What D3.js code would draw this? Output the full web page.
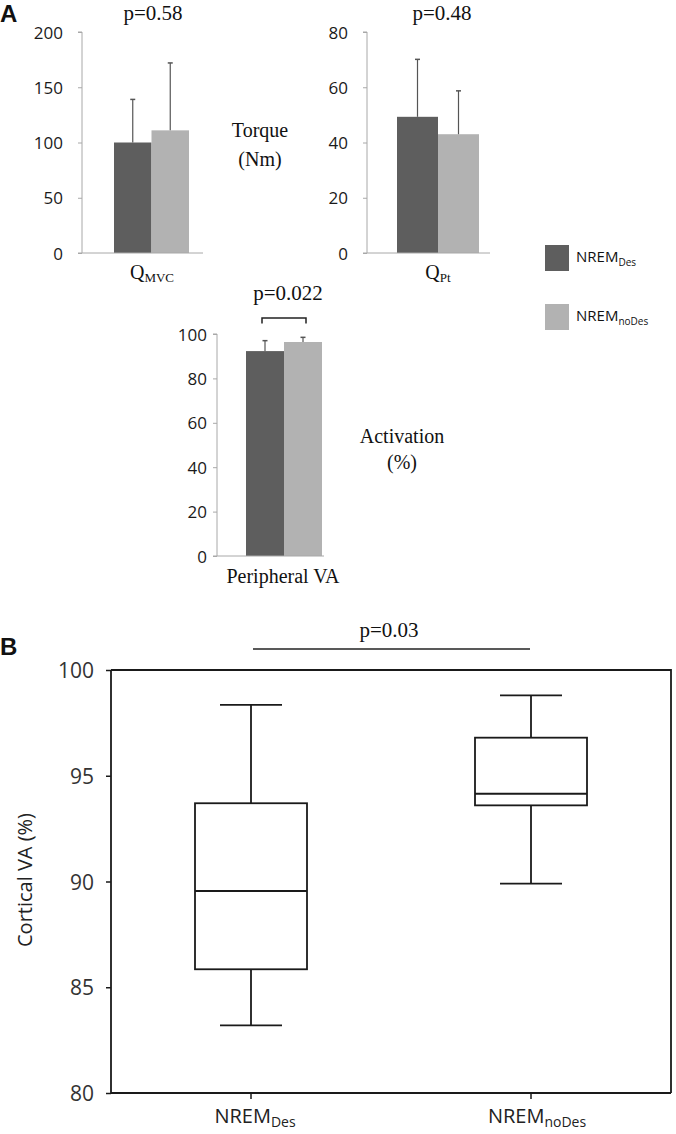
<!DOCTYPE html>
<html>
<head>
<meta charset="utf-8">
<script src="https://cdn.jsdelivr.net/npm/d3@7"></script>
<style>
  html, body { margin: 0; padding: 0; background: #fff; }
  svg { display: block; }
</style>
</head>
<body>
<svg id="chart" width="676" height="1134"></svg>
<script>
// ---------------- DATA ----------------
const groups = ["NREM_Des", "NREM_noDes"];
const groupMain = ["NREM", "NREM"];
const groupSub = ["Des", "noDes"];

// Panel A: means and SD (upper error bars)
const qmvcMean = [100, 111];
const qmvcSD = [39, 61];
const qmvcTicks = [0, 50, 100, 150, 200];
const qmvcP = "p=0.58";

const qptMean = [49.3, 43.0];
const qptSD = [20.8, 15.7];
const qptTicks = [0, 20, 40, 60, 80];
const qptP = "p=0.48";

const vaMean = [92.3, 96.4];
const vaSD = [4.7, 2.1];
const vaTicks = [0, 20, 40, 60, 80, 100];
const vaP = "p=0.022";

// Panel B: box plot statistics (Cortical VA %)
const boxMin = [83.2, 89.9];
const boxQ1 = [85.85, 93.6];
const boxMedian = [89.55, 94.15];
const boxQ3 = [93.7, 96.8];
const boxMax = [98.35, 98.8];
const boxTicks = [80, 85, 90, 95, 100];
const boxP = "p=0.03";

// ---------------- STYLE ----------------
const darkCol = "#5e5e5e";
const lightCol = "#b2b2b2";
const sans = "'Open Sans', 'Noto Sans', sans-serif";
const serif = "'Liberation Serif', 'Times New Roman', serif";

const svg = d3.select("#chart");

// ---------------- PANEL A BAR CHARTS ----------------
function barChart(opts) {
  const g = svg.append("g");
  const y = d3.scaleLinear().domain(opts.domain).range([opts.y0, opts.y1]);
  const x = d3.scaleBand().domain(groups).range([opts.bx0, opts.bx1]).padding(0);

  g.selectAll("rect.bar").data(groups).enter().append("rect")
    .attr("x", d => x(d))
    .attr("width", x.bandwidth())
    .attr("y", (d, i) => y(opts.mean[i]))
    .attr("height", (d, i) => y(0) - y(opts.mean[i]))
    .attr("fill", (d, i) => i === 0 ? darkCol : lightCol);

  groups.forEach((d, i) => {
    const cx = x(d) + x.bandwidth() / 2;
    g.append("line").attr("x1", cx).attr("x2", cx)
      .attr("y1", y(opts.mean[i])).attr("y2", y(opts.mean[i] + opts.sd[i]))
      .attr("stroke", "#555").attr("stroke-width", 1.2);
    g.append("line").attr("x1", cx - 2.5).attr("x2", cx + 2.5)
      .attr("y1", y(opts.mean[i] + opts.sd[i])).attr("y2", y(opts.mean[i] + opts.sd[i]))
      .attr("stroke", "#555").attr("stroke-width", 1.5);
  });

  const ax = g.append("g").attr("transform", `translate(${opts.ax},0)`)
    .call(d3.axisLeft(y).tickValues(opts.ticks).tickSize(4).tickPadding(opts.pad).tickFormat(d3.format("d")));
  ax.select(".domain").attr("stroke", "#a8a8a8").attr("d", `M-4,${y(opts.domain[1])}H0V${y(0)}`);
  ax.selectAll(".tick line").attr("stroke", "#a8a8a8");
  ax.selectAll(".tick text").attr("font-family", sans).attr("font-size", 17)
    .attr("fill", "#1a1a1a").attr("dy", "0.36em");

  g.append("line").attr("x1", opts.ax - 4).attr("x2", opts.baseEnd)
    .attr("y1", y(0)).attr("y2", y(0)).attr("stroke", "#a8a8a8").attr("stroke-width", 1);

  g.append("text").attr("x", opts.px).attr("y", opts.py).attr("text-anchor", "middle")
    .attr("font-family", serif).attr("font-size", 21).attr("fill", "#111").text(opts.p);

  const lab = g.append("text").attr("x", opts.lx).attr("y", opts.ly).attr("text-anchor", "middle")
    .attr("font-family", serif).attr("font-size", 20).attr("fill", "#111");
  lab.append("tspan").text(opts.label);
  if (opts.sub) lab.append("tspan").attr("font-size", 13).attr("dy", 3).text(opts.sub);
  return { g, x, y };
}

barChart({ domain: [0, 200], y0: 253, y1: 32, bx0: 114, bx1: 189, ax: 82, baseEnd: 203,
  mean: qmvcMean, sd: qmvcSD, ticks: qmvcTicks, pad: 15, p: qmvcP, px: 153, py: 20,
  label: "Q", sub: "MVC", lx: 152, ly: 279 });

barChart({ domain: [0, 80], y0: 253, y1: 32, bx0: 397, bx1: 479, ax: 367, baseEnd: 490,
  mean: qptMean, sd: qptSD, ticks: qptTicks, pad: 15, p: qptP, px: 442, py: 20,
  label: "Q", sub: "Pt", lx: 438, ly: 279 });

barChart({ domain: [0, 100], y0: 556, y1: 334, bx0: 246, bx1: 322, ax: 217, baseEnd: 324,
  mean: vaMean, sd: vaSD, ticks: vaTicks, pad: 6, p: vaP, px: 288, py: 300,
  label: "Peripheral VA", sub: null, lx: 283, ly: 583 });

// significance bracket for peripheral VA
svg.append("path")
  .attr("d", `M262,323.5V318H306V323.5`)
  .attr("fill", "none").attr("stroke", "#222").attr("stroke-width", 1.5);

function multiLine(x, ys, lines) {
  lines.forEach((t, i) => svg.append("text").attr("x", x).attr("y", ys[i]).attr("text-anchor", "middle")
    .attr("font-family", serif).attr("font-size", 20).attr("fill", "#111").text(t));
}
multiLine(260, [137, 166], ["Torque", "(Nm)"]);
multiLine(402, [443, 469], ["Activation", "(%)"]);

// legend
const legend = svg.append("g");
const legY = [245, 304];
groups.forEach((d, i) => {
  legend.append("rect").attr("x", 545).attr("y", legY[i]).attr("width", 24).attr("height", 26)
    .attr("fill", i === 0 ? darkCol : lightCol);
  const t = legend.append("text").attr("x", 576).attr("y", legY[i] + 17)
    .attr("font-family", sans).attr("font-size", 15).attr("fill", "#111");
  t.append("tspan").text(groupMain[i]);
  t.append("tspan").attr("font-size", 10).attr("dy", 4).text(groupSub[i]);
});

// panel letters
svg.append("text").attr("x", 0).attr("y", 22).attr("font-family", "'Liberation Sans', Arial, sans-serif")
  .attr("font-weight", "bold").attr("font-size", 24).attr("fill", "#111").text("A");
svg.append("text").attr("x", 0).attr("y", 655).attr("font-family", "'Liberation Sans', Arial, sans-serif")
  .attr("font-weight", "bold").attr("font-size", 24).attr("fill", "#111").text("B");

// ---------------- PANEL B BOX PLOT ----------------
const bx0 = 111, bx1 = 671, by0 = 1093, by1 = 670;
const yB = d3.scaleLinear().domain([80, 100]).range([by0, by1]);
const xB = d3.scaleBand().domain(groups).range([bx0, bx1]).padding(0);
const gB = svg.append("g");
const stroke = "#1a1a1a";

gB.append("path").attr("d", `M${bx0},${by1}H${bx1}V${by0}`)
  .attr("fill", "none").attr("stroke", stroke).attr("stroke-width", 1.8);

const ayB = gB.append("g").attr("transform", `translate(${bx0},0)`)
  .call(d3.axisLeft(yB).tickValues(boxTicks).tickSize(5).tickPadding(12));
ayB.select(".domain").attr("stroke", stroke).attr("stroke-width", 1.8).attr("d", `M0,${by1}V${by0}`);
ayB.selectAll(".tick line").attr("stroke", stroke).attr("stroke-width", 1.5);
ayB.selectAll(".tick text").attr("font-family", sans).attr("font-size", 21).attr("fill", "#333").attr("dy", "0.36em");

const axB = gB.append("g").attr("transform", `translate(0,${by0})`)
  .call(d3.axisBottom(xB).tickSize(6).tickFormat(""));
axB.select(".domain").attr("stroke", stroke).attr("stroke-width", 1.8).attr("d", `M${bx0},0H${bx1}`);
axB.selectAll(".tick line").attr("stroke", stroke).attr("stroke-width", 1.5);

groups.forEach((d, i) => {
  const t = gB.append("text").attr("x", xB(d) + xB.bandwidth() / 2 + (i === 0 ? 4 : 6)).attr("y", 1123)
    .attr("text-anchor", "middle").attr("font-family", sans).attr("font-size", 20).attr("fill", "#222");
  t.append("tspan").text(groupMain[i]);
  t.append("tspan").attr("font-size", 14).attr("dy", 4).text(groupSub[i]);
});

gB.append("text").attr("transform", "translate(32,880) rotate(-90)").attr("text-anchor", "middle")
  .attr("font-family", sans).attr("font-size", 20).attr("fill", "#222").text("Cortical VA (%)");

const boxW = 112, capW = 62;
groups.forEach((d, i) => {
  const cx = xB(d) + xB.bandwidth() / 2;
  const ln = (x1, y1, x2, y2) => gB.append("line").attr("x1", x1).attr("y1", y1).attr("x2", x2).attr("y2", y2)
    .attr("stroke", stroke).attr("stroke-width", 1.8);
  ln(cx, yB(boxMax[i]), cx, yB(boxQ3[i]));
  ln(cx, yB(boxQ1[i]), cx, yB(boxMin[i]));
  ln(cx - capW / 2, yB(boxMax[i]), cx + capW / 2, yB(boxMax[i]));
  ln(cx - capW / 2, yB(boxMin[i]), cx + capW / 2, yB(boxMin[i]));
  gB.append("rect").attr("x", cx - boxW / 2).attr("width", boxW)
    .attr("y", yB(boxQ3[i])).attr("height", yB(boxQ1[i]) - yB(boxQ3[i]))
    .attr("fill", "none").attr("stroke", stroke).attr("stroke-width", 1.8);
  ln(cx - boxW / 2, yB(boxMedian[i]), cx + boxW / 2, yB(boxMedian[i]));
});

const c0 = xB(groups[0]) + xB.bandwidth() / 2, c1 = xB(groups[1]) + xB.bandwidth() / 2;
gB.append("line").attr("x1", c0 + 2).attr("x2", c1 - 1).attr("y1", 649).attr("y2", 649)
  .attr("stroke", "#222").attr("stroke-width", 1.5);
gB.append("text").attr("x", 389).attr("y", 637).attr("text-anchor", "middle")
  .attr("font-family", serif).attr("font-size", 21).attr("fill", "#111").text(boxP);
</script>
</body>
</html>
